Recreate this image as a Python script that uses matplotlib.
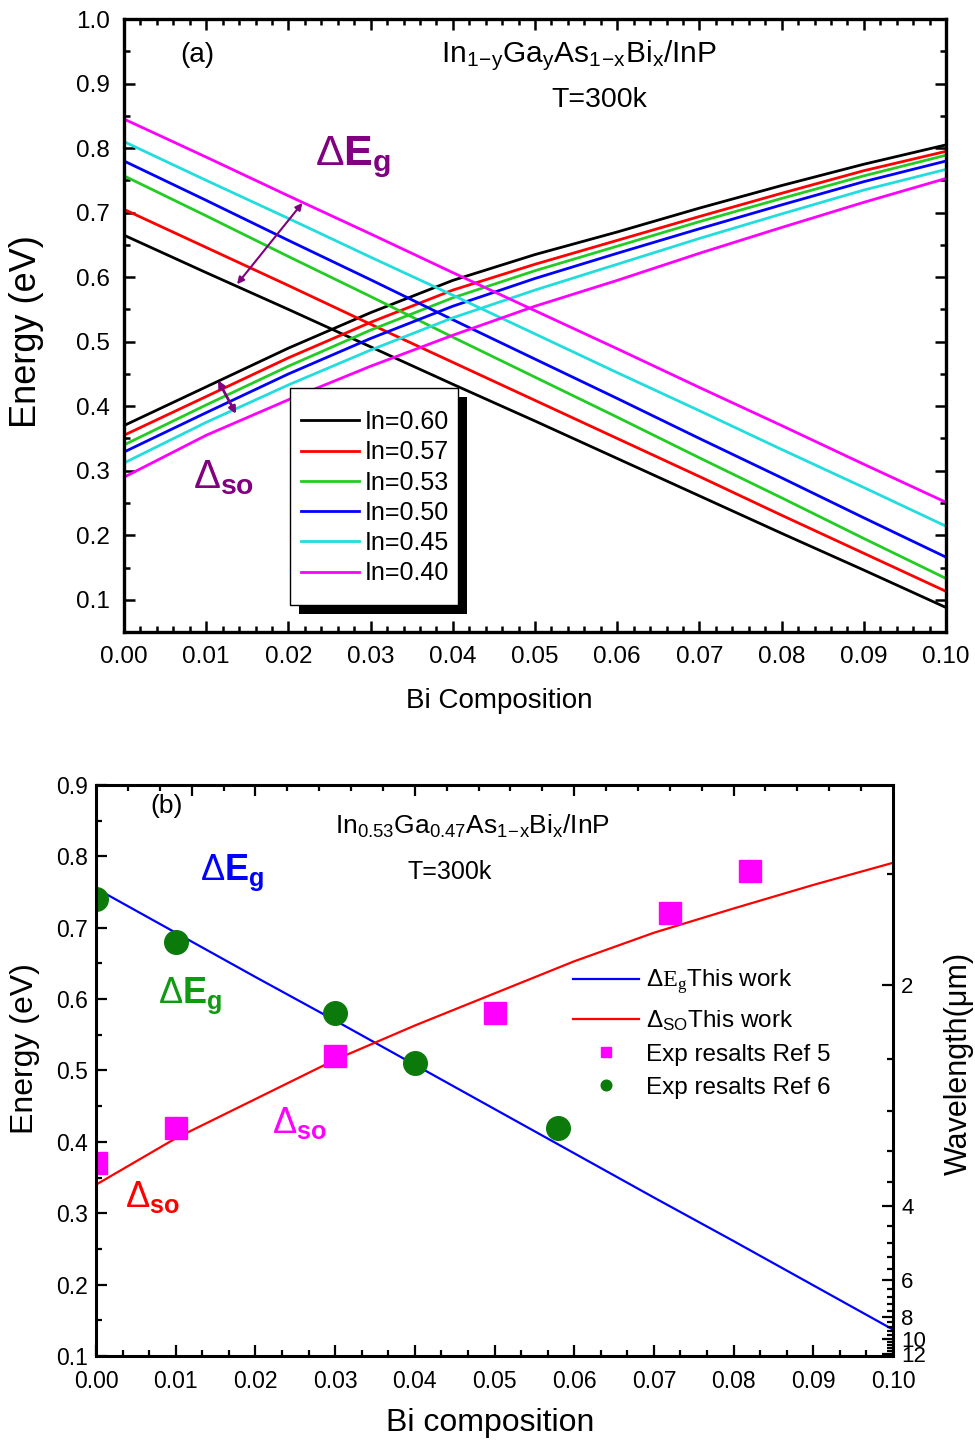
import numpy as np
import matplotlib
matplotlib.use('Agg')
import matplotlib.pyplot as plt
from matplotlib.patches import Rectangle
from matplotlib.ticker import MultipleLocator, FixedLocator, FormatStrFormatter

plt.rcParams['font.family'] = ['Liberation Sans', 'DejaVu Sans']
plt.rcParams['mathtext.fontset'] = 'custom'
plt.rcParams['mathtext.rm'] = 'Liberation Sans'
plt.rcParams['mathtext.bf'] = 'Liberation Sans:bold'
plt.rcParams['mathtext.it'] = 'Liberation Sans:italic'
plt.rcParams['mathtext.cal'] = 'Liberation Serif'

# ---- panel (a) data ----
bi_a = [0.00, 0.01, 0.02, 0.03, 0.04, 0.05, 0.06, 0.07, 0.08, 0.09, 0.10]
in_labels = ['In=0.60', 'In=0.57', 'In=0.53', 'In=0.50', 'In=0.45', 'In=0.40']
colors_a = ['#000000', '#FF0000', '#22CC22', '#0000FF', '#22DDDD', '#FF00FF']
eg_a = [
    [0.665, 0.607, 0.550, 0.492, 0.434, 0.377, 0.319, 0.261, 0.203, 0.146, 0.088],
    [0.705, 0.646, 0.587, 0.527, 0.468, 0.409, 0.350, 0.291, 0.231, 0.172, 0.113],
    [0.757, 0.695, 0.632, 0.570, 0.507, 0.445, 0.383, 0.320, 0.258, 0.195, 0.133],
    [0.780, 0.719, 0.657, 0.596, 0.534, 0.473, 0.412, 0.350, 0.289, 0.227, 0.166],
    [0.810, 0.750, 0.691, 0.631, 0.572, 0.512, 0.452, 0.393, 0.333, 0.274, 0.214],
    [0.845, 0.786, 0.726, 0.667, 0.607, 0.548, 0.489, 0.429, 0.370, 0.310, 0.251],
]
so_a = [
    [0.370, 0.430, 0.490, 0.545, 0.595, 0.635, 0.670, 0.707, 0.742, 0.775, 0.805],
    [0.355, 0.415, 0.475, 0.530, 0.580, 0.620, 0.657, 0.694, 0.730, 0.765, 0.795],
    [0.340, 0.402, 0.462, 0.518, 0.568, 0.610, 0.648, 0.686, 0.722, 0.757, 0.789],
    [0.329, 0.390, 0.450, 0.505, 0.555, 0.598, 0.637, 0.675, 0.712, 0.748, 0.780],
    [0.312, 0.375, 0.433, 0.487, 0.537, 0.580, 0.620, 0.660, 0.698, 0.735, 0.767],
    [0.290, 0.355, 0.410, 0.462, 0.510, 0.555, 0.595, 0.637, 0.677, 0.716, 0.753],
]

# ---- panel (b) data ----
bi_b = [0.00, 0.01, 0.02, 0.03, 0.04, 0.05, 0.06, 0.07, 0.08, 0.09, 0.10]
eg_b = [0.755, 0.693, 0.631, 0.570, 0.508, 0.446, 0.384, 0.322, 0.261, 0.199, 0.137]
so_b = [0.340, 0.405, 0.460, 0.515, 0.563, 0.608, 0.653, 0.693, 0.727, 0.760, 0.791]
ref5_x = [0.0, 0.01, 0.03, 0.05, 0.072, 0.082]
ref5_y = [0.37, 0.42, 0.52, 0.58, 0.72, 0.78]
ref6_x = [0.0, 0.01, 0.03, 0.04, 0.058]
ref6_y = [0.74, 0.68, 0.58, 0.51, 0.42]
wl_major = [2, 4, 6, 8, 10, 12]
wl_minor = [1.6, 2.4, 2.8, 3.2, 3.6, 4.4, 4.8, 5.2, 5.6, 6.4, 6.8, 7.2, 7.6,
            8.4, 8.8, 9.2, 9.6, 10.4, 10.8, 11.2, 11.6]
top_major = [0.012, 0.02, 0.04, 0.06, 0.08]
top_minor = [0.004, 0.008, 0.016, 0.024, 0.028, 0.032, 0.036, 0.044, 0.048, 0.052,
             0.056, 0.064, 0.068, 0.072, 0.076, 0.084, 0.088, 0.092, 0.096]

purple = '#800080'

fig = plt.figure(figsize=(9.75, 14.43), dpi=100)

# ================= panel (a) =================
ax1 = fig.add_axes([0.1272, 0.562, 0.8431, 0.4248])
handles = []
for eg, so, c, lab in zip(eg_a, so_a, colors_a, in_labels):
    ax1.plot(bi_a, eg, color=c, lw=2)
    h, = ax1.plot(bi_a, so, color=c, lw=2, label=lab)
    handles.append(h)

ax1.set_xlim(0, 0.10)
ax1.set_ylim(0.05, 1.0)
ax1.xaxis.set_major_locator(MultipleLocator(0.01))
ax1.xaxis.set_minor_locator(MultipleLocator(0.002))
ax1.yaxis.set_major_locator(MultipleLocator(0.1))
ax1.yaxis.set_minor_locator(MultipleLocator(0.05))
ax1.xaxis.set_major_formatter(FormatStrFormatter('%.2f'))
ax1.yaxis.set_major_formatter(FormatStrFormatter('%.1f'))
ax1.tick_params(which='both', direction='in', top=True, right=True, width=1.8)
ax1.tick_params(which='major', length=8, labelsize=17.5, pad=10)
ax1.tick_params(which='minor', length=4)
for sp in ax1.spines.values():
    sp.set_linewidth(2.4)
ax1.set_ylabel('Energy (eV)', fontsize=26)
ax1.set_xlabel('Bi Composition', fontsize=20)
ax1.yaxis.set_label_coords(-0.097, 0.49)
ax1.xaxis.set_label_coords(0.457, -0.091)

# legend box with black drop shadow
ax1.add_patch(Rectangle((0.2019 + 0.011, 0.0440 - 0.015), 0.2044, 0.3540,
                        transform=ax1.transAxes, fc='black', ec='none', zorder=4))
ax1.add_patch(Rectangle((0.2019, 0.0440), 0.2044, 0.3540,
                        transform=ax1.transAxes, fc='white', ec='black', lw=1, zorder=4.5))
leg = ax1.legend(handles=handles, loc='upper left', bbox_to_anchor=(0.2153, 0.362),
                 bbox_transform=ax1.transAxes, borderpad=0, borderaxespad=0,
                 handlelength=2.3, handletextpad=0.25, labelspacing=0.25,
                 fontsize=18, frameon=False)
leg.set_zorder(5)

ax1.text(0.0888, 0.941, '(a)', transform=ax1.transAxes, fontsize=20,
         ha='center', va='center')
ax1.text(0.553, 0.941, r'In$_{\mathrm{1\!-\!y}}$Ga$_{\mathrm{y}}$As$_{\mathrm{1\!-\!x}}$Bi$_{\mathrm{x}}$/InP',
         transform=ax1.transAxes, fontsize=21.5, ha='center', va='center')
ax1.text(0.578, 0.868, 'T=300k', transform=ax1.transAxes, fontsize=20.5,
         ha='center', va='center')
ax1.text(0.2324, 0.762, r'$\Delta\mathbf{E}_{\mathbf{g}}$', transform=ax1.transAxes,
         fontsize=31, color=purple, ha='left', va='baseline')
ax1.text(0.0839, 0.235, r'$\Delta_{\mathbf{so}}$', transform=ax1.transAxes,
         fontsize=29, color=purple, ha='left', va='baseline')
ax1.annotate('', xy=(0.0217, 0.715), xytext=(0.01375, 0.589),
             arrowprops=dict(arrowstyle='<|-|>', color=purple, lw=1.5,
                             mutation_scale=10, shrinkA=0, shrinkB=0))
ax1.annotate('', xy=(0.01363, 0.388), xytext=(0.01144, 0.440),
             arrowprops=dict(arrowstyle='<|-|>', color=purple, lw=2,
                             mutation_scale=10, shrinkA=0, shrinkB=0))

# ================= panel (b) =================
ax2 = fig.add_axes([0.0985, 0.0603, 0.8174, 0.3957])
l1, = ax2.plot(bi_b, eg_b, color='#0000FF', lw=1.6,
               label=r'$\Delta\mathcal{E}_{\mathcal{g}}$This work')
l2, = ax2.plot(bi_b, so_b, color='#FF0000', lw=1.6,
               label=r'$\Delta_{\mathrm{SO}}$This work')
m1, = ax2.plot(ref5_x, ref5_y, 's', color='#FF00FF', ms=16, label='Exp resalts Ref 5')
m2, = ax2.plot(ref6_x, ref6_y, 'o', color='#0B7A0B', ms=17, label='Exp resalts Ref 6')

ax2.set_xlim(0, 0.10)
ax2.set_ylim(0.1, 0.9)
ax2.xaxis.set_major_locator(MultipleLocator(0.01))
ax2.xaxis.set_minor_locator(MultipleLocator(0.01 / 3))
ax2.yaxis.set_major_locator(MultipleLocator(0.1))
ax2.yaxis.set_minor_locator(MultipleLocator(0.05))
ax2.xaxis.set_major_formatter(FormatStrFormatter('%.2f'))
ax2.yaxis.set_major_formatter(FormatStrFormatter('%.1f'))
ax2.tick_params(which='both', direction='in', width=1.6)
ax2.tick_params(which='major', length=8, labelsize=16.5, pad=6)
ax2.tick_params(axis='x', which='major', pad=10)
ax2.tick_params(which='minor', length=4)
for sp in ax2.spines.values():
    sp.set_linewidth(2.2)
ax2.set_ylabel('Energy (eV)', fontsize=23)
ax2.set_xlabel('Bi composition', fontsize=23)
ax2.yaxis.set_label_coords(-0.0703, 0.539)
ax2.xaxis.set_label_coords(0.494, -0.091)

ax2t = ax2.twiny()
ax2t.set_xlim(0, 0.10)
ax2t.xaxis.set_major_locator(FixedLocator(top_major))
ax2t.xaxis.set_minor_locator(FixedLocator(top_minor))
ax2t.tick_params(which='both', direction='in', width=1.6, labeltop=False)
ax2t.tick_params(which='major', length=8)
ax2t.tick_params(which='minor', length=4)

ax2r = ax2.twinx()
ax2r.set_ylim(0.1, 0.9)
ax2r.yaxis.set_major_locator(FixedLocator([1.24 / w for w in wl_major]))
ax2r.yaxis.set_minor_locator(FixedLocator([1.24 / w for w in wl_minor]))
ax2r.set_yticklabels([str(w) for w in wl_major])
ax2r.tick_params(which='both', direction='in', width=1.6)
ax2r.tick_params(which='major', length=8, labelsize=16, pad=6)
ax2r.tick_params(which='minor', length=4)
ax2r.set_ylabel('Wavelength(μm)', fontsize=22)
ax2r.yaxis.set_label_coords(1.064, 0.513)

ax2.legend(handles=[l1, l2, m1, m2], loc='upper left', bbox_to_anchor=(0.5985, 0.68),
           bbox_transform=ax2.transAxes, borderpad=0, borderaxespad=0,
           handlelength=2.7, handletextpad=0.3, labelspacing=0.45,
           markerscale=0.45, fontsize=17.5, frameon=False)

ax2.text(0.089, 0.963, '(b)', transform=ax2.transAxes, fontsize=19,
         ha='center', va='center')
ax2.text(0.472, 0.928, r'In$_{\mathrm{0.53}}$Ga$_{\mathrm{0.47}}$As$_{\mathrm{1\!-\!x}}$Bi$_{\mathrm{x}}$/InP',
         transform=ax2.transAxes, fontsize=19, ha='center', va='center')
ax2.text(0.444, 0.848, 'T=300k', transform=ax2.transAxes, fontsize=18,
         ha='center', va='center')
ax2.text(0.1305, 0.834, r'$\Delta\mathbf{E}_{\mathbf{g}}$', transform=ax2.transAxes,
         fontsize=26, color='#0000FF', ha='left', va='baseline')
ax2.text(0.078, 0.618, r'$\Delta\mathbf{E}_{\mathbf{g}}$', transform=ax2.transAxes,
         fontsize=26, color='#119911', ha='left', va='baseline')
ax2.text(0.221, 0.3905, r'$\Delta_{\mathbf{so}}$', transform=ax2.transAxes,
         fontsize=26, color='#FF00FF', ha='left', va='baseline')
ax2.text(0.0364, 0.261, r'$\Delta_{\mathbf{so}}$', transform=ax2.transAxes,
         fontsize=26, color='#FF0000', ha='left', va='baseline')

fig.savefig('out.png', dpi=100)
